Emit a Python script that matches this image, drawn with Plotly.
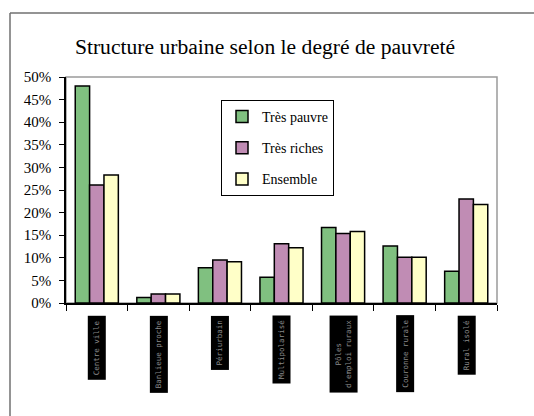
import plotly.graph_objects as go

# ---- data ----
categories = ["Centre ville", "Banlieue proche", "Périurbain", "Multipolarisé",
              "Pôles<br>d'emploi ruraux", "Couronne rurale", "Rural isolé"]
tres_pauvre = [48.0, 1.2, 7.8, 5.7, 16.7, 12.6, 7.0]
tres_riches = [26.1, 2.0, 9.5, 13.1, 15.4, 10.1, 23.0]
ensemble = [28.3, 2.0, 9.1, 12.2, 15.8, 10.1, 21.8]
series_names = ["Très pauvre", "Très riches", "Ensemble"]
y_ticks = [0, 5, 10, 15, 20, 25, 30, 35, 40, 45, 50]
y_tick_labels = [f"{v}%" for v in y_ticks]

# ---- layout constants ----
W, H = 534, 416
L, R, T, B = 66, 37, 77, 113
PW, PH = W - L - R, H - T - B

def px_x(x):
    return (x - L) / PW

def px_y(y):
    return (H - B - y) / PH

colors = ["#80C080", "#C08CB4", "#FFFFC8"]
serif = "'Times New Roman', 'Liberation Serif', serif"

fig = go.Figure()
for name, vals, col in zip(series_names, [tres_pauvre, tres_riches, ensemble], colors):
    fig.add_trace(go.Bar(
        x=categories, y=vals, name=name, legendgroup=name,
        marker=dict(color=col, line=dict(color="black", width=1.5)),
    ))

annotations = []
for c in categories:
    annotations.append(dict(
        x=c, xref="x", y=px_y(315), yref="paper", yanchor="top", xanchor="center",
        text=c, textangle=-90, showarrow=False, bgcolor="black", borderpad=4,
        font=dict(family="DejaVu Sans Mono", size=7.5, color="#8a8a8a"),
    ))

shapes = [
    # plot-area border (grey)
    dict(type="rect", xref="paper", yref="paper", x0=0, x1=1, y0=0, y1=1,
         line=dict(color="#9a9a9a", width=1.5), layer="below"),
    # outer chart frame (top and left)
    dict(type="line", xref="paper", yref="paper", x0=px_x(10), x1=px_x(540),
         y0=px_y(13), y1=px_y(13), line=dict(color="#707070", width=1.5)),
    dict(type="line", xref="paper", yref="paper", x0=px_x(10), x1=px_x(10),
         y0=px_y(13), y1=px_y(420), line=dict(color="#707070", width=1.5)),
]

fig.update_layout(
    width=W, height=H,
    margin=dict(l=L, r=R, t=T, b=B),
    paper_bgcolor="white", plot_bgcolor="white",
    title=dict(text="Structure urbaine selon le degré de pauvreté",
               x=265 / W, xref="container", xanchor="center",
               y=1 - 46 / H, yref="container", yanchor="middle",
               font=dict(family=serif, size=21.6, color="black")),
    barmode="group", bargap=0.3, bargroupgap=0,
    showlegend=True,
    legend=dict(x=px_x(221), y=px_y(100), xanchor="left", yanchor="top",
                bgcolor="white", bordercolor="black", borderwidth=1,
                font=dict(family=serif, size=14, color="black"),
                tracegroupgap=10, itemwidth=30),
    font=dict(family=serif, size=14, color="black"),
    xaxis=dict(showticklabels=False, ticks="outside", tickson="boundaries",
               ticklen=6, tickcolor="black", showline=True, linecolor="black",
               linewidth=1.5, showgrid=False, zeroline=False),
    yaxis=dict(range=[0, 50], tickmode="array", tickvals=y_ticks,
               ticktext=y_tick_labels, ticks="outside",
               ticklen=5, tickcolor="black", showline=True, linecolor="black",
               linewidth=1.5, showgrid=False, zeroline=False,
               ticklabelstandoff=5,
               tickfont=dict(family=serif, size=15, color="black")),
    annotations=annotations,
    shapes=shapes,
)

fig.write_html("out.html", config={"displayModeBar": False},
               post_script="document.body.style.margin='0px';")
